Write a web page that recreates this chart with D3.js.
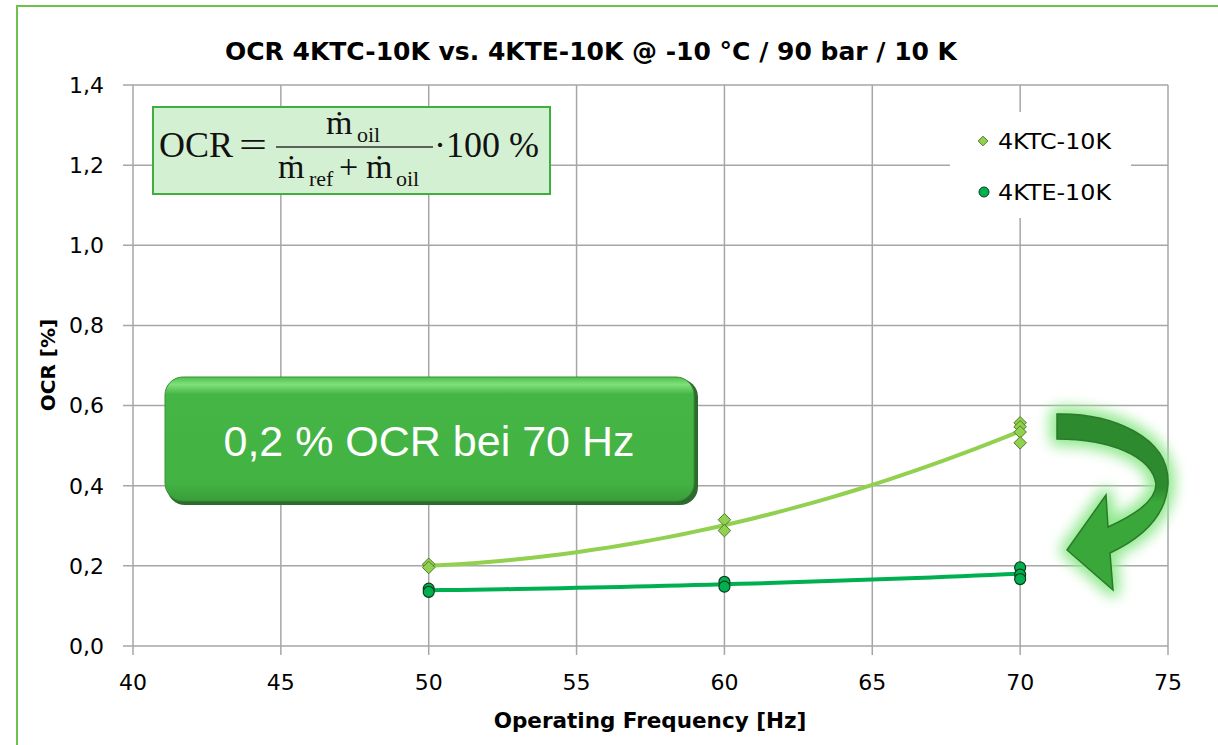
<!DOCTYPE html>
<html>
<head>
<meta charset="utf-8">
<script src="https://cdn.jsdelivr.net/npm/d3@7"></script>
<style>
  body { margin: 0; background: #fff; }
  svg { display: block; }
</style>
</head>
<body>
<svg id="chart"></svg>
<script>
// measured OCR values [%] at each operating frequency [Hz]
const freqKTC = [50, 50, 60, 60, 70, 70, 70, 70];
const ocrKTC  = [0.204, 0.196, 0.315, 0.288, 0.557, 0.547, 0.534, 0.507];
const freqKTE = [50, 50, 60, 60, 70, 70, 70];
const ocrKTE  = [0.143, 0.135, 0.160, 0.148, 0.196, 0.178, 0.167];

const seriesNames = ["4KTC-10K", "4KTE-10K"];
const xTicks = [40, 45, 50, 55, 60, 65, 70, 75];
const yTicks = [0, 0.2, 0.4, 0.6, 0.8, 1.0, 1.2, 1.4];

const W = 1218, H = 745;
const margin = { top: 85, right: 50, bottom: 99, left: 133 };

const svg = d3.select("#chart").attr("width", W).attr("height", H);

const x = d3.scaleLinear().domain([40, 75]).range([margin.left, 1168]);
const y = d3.scaleLinear().domain([0, 1.4]).range([H - margin.bottom, margin.top]);

const de = d3.formatLocale({ decimal: ",", thousands: ".", grouping: [3], currency: ["", "€"] });
const fmt = de.format(".1f");

const defs = svg.append("defs");
const glow = defs.append("filter").attr("id", "glow")
  .attr("x", "-40%").attr("y", "-40%").attr("width", "180%").attr("height", "180%");
glow.append("feGaussianBlur").attr("stdDeviation", 7);

const arrowGrad = defs.append("linearGradient").attr("id", "arrowGrad")
  .attr("x1", 0).attr("y1", 0).attr("x2", 0).attr("y2", 1);
arrowGrad.append("stop").attr("offset", "0%").attr("stop-color", "#2e8a2e");
arrowGrad.append("stop").attr("offset", "42%").attr("stop-color", "#2e8a2e");
arrowGrad.append("stop").attr("offset", "50%").attr("stop-color", "#3aa73a");
arrowGrad.append("stop").attr("offset", "100%").attr("stop-color", "#3aa73a");

const boxGrad = defs.append("linearGradient").attr("id", "boxGrad")
  .attr("x1", 0).attr("y1", 0).attr("x2", 0).attr("y2", 1);
boxGrad.append("stop").attr("offset", "0%").attr("stop-color", "#4cc04c");
boxGrad.append("stop").attr("offset", "6%").attr("stop-color", "#7fe07b");
boxGrad.append("stop").attr("offset", "14%").attr("stop-color", "#45b545");
boxGrad.append("stop").attr("offset", "85%").attr("stop-color", "#42b342");
boxGrad.append("stop").attr("offset", "100%").attr("stop-color", "#3a9e3a");

// outer frame
svg.append("path")
  .attr("d", `M17,${H} L17,6 L${W},6`)
  .attr("fill", "none").attr("stroke", "#6cc24a").attr("stroke-width", 2);

// grid
svg.append("g").selectAll("line").data(yTicks).join("line")
  .attr("x1", x(40) - 10).attr("x2", x(75))
  .attr("y1", d => y(d)).attr("y2", d => y(d))
  .attr("stroke", "#a6a6a6").attr("stroke-width", 1.5);
svg.append("g").selectAll("line").data(xTicks).join("line")
  .attr("x1", d => x(d)).attr("x2", d => x(d))
  .attr("y1", y(1.4)).attr("y2", y(0) + 9)
  .attr("stroke", "#a6a6a6").attr("stroke-width", 1.5);

// tick labels
svg.append("g").selectAll("text").data(yTicks).join("text")
  .attr("x", 104).attr("y", d => y(d)).attr("dy", "0.36em")
  .attr("text-anchor", "end")
  .attr("font-family", "DejaVu Sans").attr("font-size", 22)
  .text(d => fmt(d));
svg.append("g").selectAll("text").data(xTicks).join("text")
  .attr("x", d => x(d)).attr("y", 690)
  .attr("text-anchor", "middle")
  .attr("font-family", "DejaVu Sans").attr("font-size", 22)
  .text(d => d);

// titles
svg.append("text").attr("x", 591).attr("y", 60).attr("text-anchor", "middle")
  .attr("font-family", "DejaVu Sans").attr("font-weight", "bold").attr("font-size", 25)
  .text("OCR 4KTC-10K vs. 4KTE-10K @ -10 °C / 90 bar / 10 K");
svg.append("text").attr("x", 650).attr("y", 728).attr("text-anchor", "middle")
  .attr("font-family", "DejaVu Sans").attr("font-weight", "bold").attr("font-size", 21.5)
  .text("Operating Frequency [Hz]");
svg.append("text").attr("transform", "translate(55,365) rotate(-90)").attr("text-anchor", "middle")
  .attr("font-family", "DejaVu Sans").attr("font-weight", "bold").attr("font-size", 20)
  .text("OCR [%]");

// polynomial (2nd order) trend line, like the spreadsheet trend
function quadFit(xs, ys) {
  const n = xs.length;
  let s = [0, 0, 0, 0, 0], t = [0, 0, 0];
  for (let i = 0; i < n; i++) {
    const u = xs[i] - 60;
    for (let k = 0; k < 5; k++) s[k] += Math.pow(u, k);
    for (let k = 0; k < 3; k++) t[k] += ys[i] * Math.pow(u, k);
  }
  const A = [[s[0], s[1], s[2]], [s[1], s[2], s[3]], [s[2], s[3], s[4]]];
  const det = m => m[0][0] * (m[1][1] * m[2][2] - m[1][2] * m[2][1])
    - m[0][1] * (m[1][0] * m[2][2] - m[1][2] * m[2][0])
    + m[0][2] * (m[1][0] * m[2][1] - m[1][1] * m[2][0]);
  const D = det(A);
  const c = [0, 1, 2].map(j => det(A.map((row, r) => row.map((v, cc) => cc === j ? t[r] : v))) / D);
  return f => c[0] + c[1] * (f - 60) + c[2] * (f - 60) * (f - 60);
}

const line = d3.line().x(d => x(d[0])).y(d => y(d[1]));
const fKTC = quadFit(freqKTC, ocrKTC);
const fKTE = quadFit(freqKTE, ocrKTE);
const steps = d3.range(50, 70.01, 0.5);

svg.append("path").datum(steps.map(f => [f, fKTC(f)]))
  .attr("d", line).attr("fill", "none").attr("stroke", "#92d050").attr("stroke-width", 4);
svg.append("path").datum(steps.map(f => [f, fKTE(f)]))
  .attr("d", line).attr("fill", "none").attr("stroke", "#00b050").attr("stroke-width", 4);

// markers
const diamond = d3.symbol().type(d3.symbolDiamond2).size(100);
svg.append("g").selectAll("path").data(freqKTC.map((f, i) => [f, ocrKTC[i]])).join("path")
  .attr("transform", d => `translate(${x(d[0])},${y(d[1])})`)
  .attr("d", diamond)
  .attr("fill", "#92d050").attr("stroke", "#4f7a2a").attr("stroke-width", 1);
svg.append("g").selectAll("circle").data(freqKTE.map((f, i) => [f, ocrKTE[i]])).join("circle")
  .attr("cx", d => x(d[0])).attr("cy", d => y(d[1])).attr("r", 5.5)
  .attr("fill", "#00b050").attr("stroke", "#0b3d1a").attr("stroke-width", 1.2);

// legend
const legend = svg.append("g");
legend.append("rect").attr("x", 950).attr("y", 112).attr("width", 181).attr("height", 106).attr("fill", "#fff");
legend.append("path").attr("transform", "translate(983,141)")
  .attr("d", d3.symbol().type(d3.symbolDiamond2).size(60))
  .attr("fill", "#92d050").attr("stroke", "#4f7a2a");
legend.append("circle").attr("cx", 984).attr("cy", 192).attr("r", 5)
  .attr("fill", "#00b050").attr("stroke", "#0b3d1a");
legend.selectAll("text").data(seriesNames).join("text")
  .attr("x", 998).attr("y", (d, i) => 141 + i * 51).attr("dy", "0.36em")
  .attr("font-family", "DejaVu Sans").attr("font-size", 21)
  .attr("textLength", 113).attr("lengthAdjust", "spacingAndGlyphs")
  .text(d => d);

// formula box
const fb = svg.append("g");
fb.append("rect").attr("x", 153).attr("y", 107).attr("width", 397).attr("height", 87)
  .attr("fill", "#d4f0d2").attr("stroke", "#3fae3f").attr("stroke-width", 2);
const serif = "Liberation Serif, Times New Roman, serif";
const ft = (px, py, size, s) => fb.append("text").attr("x", px).attr("y", py)
  .attr("font-family", serif).attr("font-size", size).attr("fill", "#111").text(s);
ft(159, 157, 36, "OCR");
ft(239, 157, 36, "=").attr("textLength", 28).attr("lengthAdjust", "spacingAndGlyphs");
fb.append("line").attr("x1", 276).attr("x2", 433).attr("y1", 147).attr("y2", 147)
  .attr("stroke", "#333").attr("stroke-width", 1.5);
ft(326, 134, 34, "ṁ");
ft(357, 142, 22, "oil");
ft(278, 178, 34, "ṁ");
ft(309, 186, 22, "ref");
ft(339, 178, 34, "+");
ft(366, 178, 34, "ṁ");
ft(396, 186, 22, "oil");
ft(434, 157, 36, "·100 %");

// callout box
const cb = svg.append("g");
cb.append("rect").attr("x", 167).attr("y", 379).attr("width", 531).attr("height", 126).attr("rx", 18)
  .attr("fill", "#2d6a2d");
cb.append("rect").attr("x", 165).attr("y", 377).attr("width", 529).attr("height", 124).attr("rx", 18)
  .attr("fill", "url(#boxGrad)").attr("stroke", "#3b8f3b").attr("stroke-width", 1);
cb.append("text").attr("x", 429).attr("y", 456).attr("text-anchor", "middle")
  .attr("font-family", "Liberation Sans, Arial").attr("font-size", 43).attr("fill", "#fff")
  .text("0,2 % OCR bei 70 Hz");

// curved arrow
const arrowD = "M1057,414 C1112,413 1170,437 1168,484 C1166,517 1142,538 1110,553 L1113,590 L1067,550 " +
  "L1106,495 L1108,527 C1132,516 1156,502 1156,484 C1152,456 1110,439 1057,439 Z";
svg.append("path").attr("d", arrowD).attr("fill", "#8fe88c").attr("stroke", "#8fe88c")
  .attr("stroke-width", 14).attr("stroke-linejoin", "round").attr("filter", "url(#glow)");
svg.append("path").attr("d", arrowD).attr("fill", "url(#arrowGrad)")
  .attr("stroke", "#2a7a2a").attr("stroke-width", 1.5);
</script>
</body>
</html>
